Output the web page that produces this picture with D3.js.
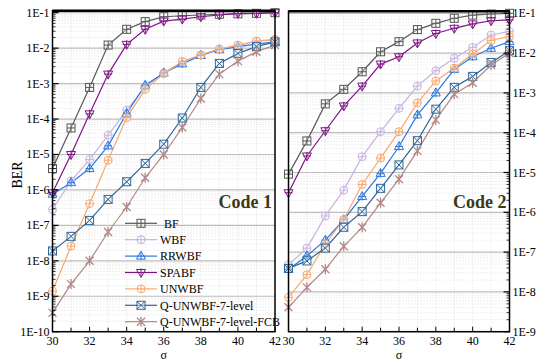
<!DOCTYPE html>
<html><head><meta charset="utf-8">
<script src="https://cdn.jsdelivr.net/npm/d3@7"></script>
<style>body{margin:0;background:#fff}svg{display:block}text{font-family:"Liberation Serif","Times New Roman",serif}</style>
</head><body><svg id="c" width="545" height="361"></svg>
<script>
const sigma = [30,31,32,33,34,35,36,37,38,39,40,41,42];
const seriesNames = ["BF","WBF","RRWBF","SPABF","UNWBF","Q-UNWBF-7-level","Q-UNWBF-7-level-FCB"];
// Code 1
const code1_BF    = [4e-6,5.6e-5,7.8e-4,1.22e-2,3.4e-2,5.6e-2,7.7e-2,8.2e-2,8.6e-2,9e-2,9.3e-2,9.6e-2,1e-1];
const code1_WBF   = [2.8e-7,1.8e-6,7.2e-6,3.5e-5,1.78e-4,8.2e-4,2e-3,4.1e-3,6.4e-3,9.3e-3,1.22e-2,1.6e-2,1.77e-2];
const code1_RRWBF = [7.6e-7,1.6e-6,4e-6,1.75e-5,1.45e-4,9e-4,2e-3,3.6e-3,6.2e-3,9e-3,1.1e-2,1.3e-2,1.5e-2];
const code1_SPABF = [8.3e-7,1e-5,1.4e-4,1.85e-3,1.28e-2,3.4e-2,5.8e-2,6.6e-2,7.7e-2,8.6e-2,9.6e-2,9.6e-2,1e-1];
const code1_UNWBF = [1.4e-9,2.6e-8,4.1e-7,6.9e-6,1.1e-4,6.9e-4,1.9e-3,4.2e-3,6.4e-3,9.5e-3,1.2e-2,1.55e-2,1.7e-2];
const code1_Q7    = [1.9e-8,4.9e-8,1.38e-7,5.4e-7,1.7e-6,5.6e-6,1.95e-5,1.07e-4,7.8e-4,3.7e-3,7.1e-3,1.1e-2,1.5e-2];
const code1_FCB   = [3.4e-10,2.2e-9,1e-8,6.5e-8,3.3e-7,2.2e-6,1e-5,5.8e-5,3.8e-4,1.85e-3,4.3e-3,7.9e-3,1.22e-2];
// Code 2
const code2_BF    = [9.1e-6,6.2e-5,5.3e-4,1.23e-3,3.4e-3,1.08e-2,1.94e-2,3.9e-2,5.6e-2,7.5e-2,9e-2,9.6e-2,1e-1];
const code2_WBF   = [4.8e-8,1.26e-7,8.1e-7,3.6e-6,2.5e-5,1.06e-4,4.1e-4,1.49e-3,3.6e-3,7.4e-3,1.4e-2,2.85e-2,3.5e-2];
const code2_RRWBF = [3.7e-8,8e-8,2e-7,6.5e-7,2.5e-6,9.5e-6,4.5e-5,2.8e-4,1e-3,3.9e-3,8.1e-3,1.32e-2,1.94e-2];
const code2_SPABF = [3.1e-6,2.6e-5,1.12e-4,4.7e-4,1.48e-3,5.3e-3,8.1e-3,1.8e-2,3.1e-2,4.2e-2,5.4e-2,6.5e-2,6.8e-2];
const code2_UNWBF = [7.3e-9,2.7e-8,1.6e-7,6.6e-7,5e-6,2.3e-5,1.06e-4,5.6e-4,2e-3,4.2e-3,9.5e-3,2.1e-2,2.6e-2];
const code2_Q7    = [3.9e-8,6e-8,1.26e-7,4.2e-7,1.04e-6,4e-6,1.55e-5,6.3e-5,3.9e-4,1.38e-3,2.6e-3,5.8e-3,1.15e-2];
const code2_FCB   = [4.1e-9,1.3e-8,3.7e-8,1.4e-7,4.2e-7,1.73e-6,6.8e-6,3.5e-5,2.1e-4,9.3e-4,1.8e-3,5e-3,1e-2];
const xTickLabels = ["30","32","34","36","38","40","42"];
const yTickLabels1 = ["1E-1","1E-2","1E-3","1E-4","1E-5","1E-6","1E-7","1E-8","1E-9","1E-10"];
const yTickLabels2 = ["1E-1","1E-2","1E-3","1E-4","1E-5","1E-6","1E-7","1E-8","1E-9"];
const panelTitles = ["Code 1","Code 2"];

const colors = ["#555555","#c8b3e0","#2a78e0","#7e1485","#f9a86c","#30679a","#b38886"];
const markers = ["sqplus","circplus","triup","tridown","circplus","sqx","star"];
const svg = d3.select("#c");

function marker(g, type, color, x, y) {
  const s = 4;
  const m = g.append("g").attr("transform",`translate(${x},${y})`)
    .attr("fill","none").attr("stroke",color).attr("stroke-width",1);
  if (type==="sqplus"||type==="sqx") {
    m.append("rect").attr("x",-s).attr("y",-s).attr("width",2*s).attr("height",2*s).attr("fill","#fff").attr("fill-opacity",0.4);
    if (type==="sqplus") m.append("path").attr("d",`M${-s},0H${s}M0,${-s}V${s}`);
    else m.append("path").attr("d",`M${-s},${-s}L${s},${s}M${-s},${s}L${s},${-s}`);
  } else if (type==="circplus") {
    m.append("circle").attr("r",s).attr("fill","#fff").attr("fill-opacity",0.4);
    m.append("path").attr("d",`M${-s},0H${s}M0,${-s}V${s}`);
  } else if (type==="triup") {
    m.append("path").attr("d",`M0,${-s-1}L${s+0.5},${s-1}L${-s-0.5},${s-1}Z`).attr("fill","#fff").attr("fill-opacity",0.4);
    m.append("path").attr("d",`M${-s},0H${s}M0,${-s}V${s}`);
  } else if (type==="tridown") {
    m.append("path").attr("d",`M0,${s+1}L${s+0.5},${-s+1}L${-s-0.5},${-s+1}Z`).attr("fill","#fff").attr("fill-opacity",0.4);
    m.append("path").attr("d",`M${-s},0H${s}M0,${-s}V${s}`);
  } else if (type==="star") {
    m.append("path").attr("d",`M${-s},${-s}L${s},${s}M${-s},${s}L${s},${-s}M0,${-s-1}V${s+1}`).attr("stroke-width",1.3);
  }
}

function panel(cfg) {
  const {x0,x1,yTop,yBot,domTop,domBot,series,labels,side,title} = cfg;
  const x = d3.scaleLinear().domain([30,42]).range([x0,x1]);
  const y = d3.scaleLog().domain([domBot,domTop]).range([yBot,yTop]);
  const g = svg.append("g");
  const lo = Math.round(Math.log10(domBot)), hi = -1;
  const minor = [];
  for (let e=lo; e<hi; e++) for (let k=2;k<=9;k++) minor.push(k*Math.pow(10,e));
  g.selectAll(".mg").data(minor).join("line")
    .attr("x1",x0).attr("x2",x1).attr("y1",d=>y(d)).attr("y2",d=>y(d))
    .attr("stroke","#d8d8d8").attr("stroke-width",0.8).attr("stroke-dasharray","1,2");
  g.selectAll(".vg").data(sigma.slice(1,-1)).join("line")
    .attr("x1",d=>x(d)).attr("x2",d=>x(d)).attr("y1",yTop).attr("y2",yBot)
    .attr("stroke","#d8d8d8").attr("stroke-width",0.8).attr("stroke-dasharray","1,2");
  const majors = labels.map(l=>+l.replace("E","e"));
  g.selectAll(".Mg").data(majors).join("line")
    .attr("x1",x0).attr("x2",x1).attr("y1",d=>y(d)).attr("y2",d=>y(d))
    .attr("stroke","#bdbdbd").attr("stroke-width",1.2);
  const line = d3.line().x((d,i)=>x(sigma[i])).y(d=>y(d));
  series.forEach((s,i)=>{
    g.append("path").datum(s).attr("d",line).attr("fill","none")
      .attr("stroke",colors[i]).attr("stroke-width",1.2);
  });
  series.forEach((s,i)=>{
    s.forEach((v,j)=>marker(g,markers[i],colors[i],x(sigma[j]),y(v)));
  });
  g.append("rect").attr("x",x0).attr("y",yTop-2).attr("width",x1-x0).attr("height",yBot-yTop+2)
    .attr("fill","none").attr("stroke","#000").attr("stroke-width",1.5);
  g.append("line").attr("x1",x0).attr("x2",x1).attr("y1",yTop-2).attr("y2",yTop-2).attr("stroke","#000").attr("stroke-width",2.5);
  const ax = side==="left" ? x0 : x1;
  const dir = side==="left" ? 1 : -1;
  g.selectAll(".yt").data(majors).join("line")
    .attr("x1",ax).attr("x2",ax+dir*6).attr("y1",d=>y(d)).attr("y2",d=>y(d)).attr("stroke","#000").attr("stroke-width",1.2);
  g.selectAll(".ymt").data(minor).join("line")
    .attr("x1",ax).attr("x2",ax+dir*3).attr("y1",d=>y(d)).attr("y2",d=>y(d)).attr("stroke","#000").attr("stroke-width",0.8);
  g.selectAll(".yl").data(labels).join("text")
    .attr("x", side==="left" ? x0-3 : x1+3).attr("y",d=>y(+d.replace("E","e"))+4)
    .attr("text-anchor", side==="left" ? "end":"start").attr("font-size",12).text(d=>d);
  g.selectAll(".xt").data(sigma).join("line")
    .attr("x1",d=>x(d)).attr("x2",d=>x(d)).attr("y1",yBot).attr("y2",d=>yBot-(d%2===0?5:4))
    .attr("stroke","#000").attr("stroke-width",1);
  g.selectAll(".xl").data(xTickLabels).join("text")
    .attr("x",d=>x(+d)).attr("y",yBot+13).attr("text-anchor","middle").attr("font-size",12).text(d=>d);
  g.append("text").attr("x",(x0+x1)/2).attr("y",yBot+27.5).attr("text-anchor","middle").attr("font-size",12).text("σ");
  g.append("text").attr("x",x1-3).attr("y",208).attr("text-anchor","end").attr("font-size",18)
    .attr("font-weight","bold").attr("fill","#3c3a12").text(title);
  return {x,y};
}

panel({x0:52.5,x1:275,yTop:12.7,yBot:331.7,domTop:1e-1,domBot:1e-10,
  series:[code1_BF,code1_WBF,code1_RRWBF,code1_SPABF,code1_UNWBF,code1_Q7,code1_FCB],
  labels:yTickLabels1,side:"left",title:panelTitles[0]});
panel({x0:288.5,x1:509.5,yTop:13.3,yBot:331.7,domTop:1e-1,domBot:1e-9,
  series:[code2_BF,code2_WBF,code2_RRWBF,code2_SPABF,code2_UNWBF,code2_Q7,code2_FCB],
  labels:yTickLabels2,side:"right",title:panelTitles[1]});

svg.append("text").attr("transform","translate(22,175) rotate(-90)").attr("text-anchor","middle")
  .attr("font-size",14).text("BER");

const lg = svg.append("g");
seriesNames.forEach((n,i)=>{
  const yy = 223.3 + i*16.4;
  lg.append("line").attr("x1",125).attr("x2",157).attr("y1",yy).attr("y2",yy).attr("stroke",colors[i]).attr("stroke-width",1.2);
  marker(lg,markers[i],colors[i],141,yy);
  lg.append("text").attr("x", i===0?164:160).attr("y",yy+4.3).attr("font-size",12).text(n);
});
</script></body></html>
